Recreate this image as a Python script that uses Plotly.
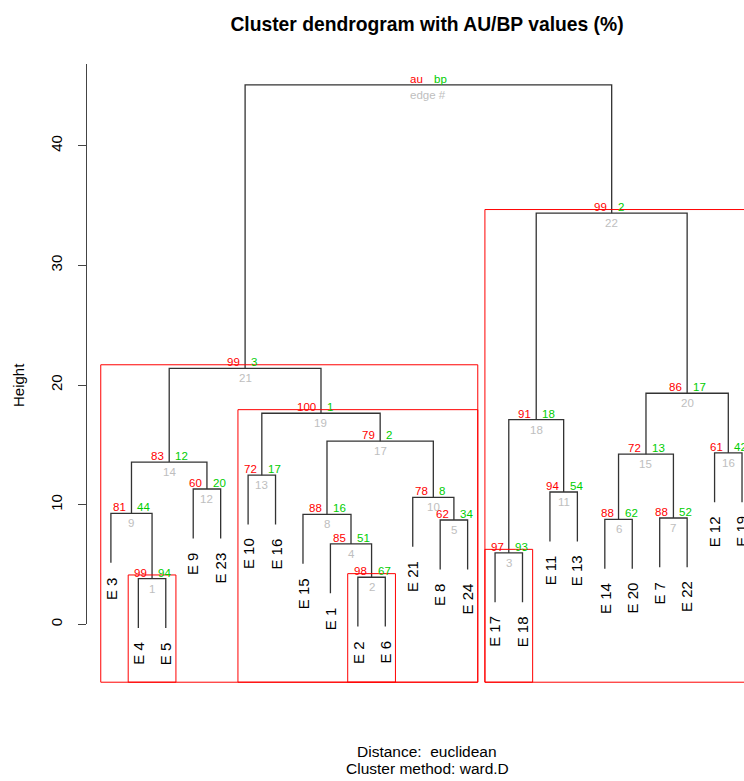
import plotly.graph_objects as go

# ---------------- data ----------------
leaf_labels = ["E 3", "E 4", "E 5", "E 9", "E 23", "E 10", "E 16", "E 15", "E 1", "E 2", "E 6", "E 21",
               "E 8", "E 24", "E 17", "E 18", "E 11", "E 13", "E 14", "E 20", "E 7", "E 22", "E 12", "E 19"]
# hclust-style merges: negative = leaf position (1-based, in plotting order), positive = earlier edge number
merge_left = [-2, -10, -15, -9, -13, -19, -21, -8, -1, -12, -17, -4, -6, 9, 6, -23, 8, 3, 13, 15, 14, 18, 21]
merge_right = [-3, -11, -16, 2, -14, -20, -22, 4, 1, 5, -18, -5, -7, 12, 7, -24, 10, 11, 17, 16, 19, 20, 22]
merge_height = [3.83, 3.94, 5.97, 6.72, 8.72, 8.78, 8.89, 9.19, 9.28, 10.61, 11.06, 11.31, 12.47, 13.56,
                14.22, 14.33, 15.31, 17.11, 17.64, 19.31, 21.39, 34.36, 45.08]
au_values = [99, 98, 97, 85, 62, 88, 88, 88, 81, 78, 94, 60, 72, 83, 72, 61, 79, 91, 100, 86, 99, 99]
bp_values = [94, 67, 93, 51, 34, 62, 52, 16, 44, 8, 54, 20, 17, 12, 13, 42, 2, 18, 1, 17, 3, 2]
y_ticks = [0, 10, 20, 30, 40]
au_threshold = 95

# ---------------- geometry helpers ----------------
FONT = "Liberation Sans, Arial, sans-serif"
RED, GREEN, GRAY = "#FF0000", "#00CD00", "#BEBEBE"
W, H = 744, 781
px_per_x = 27.44
px_per_y = 12.0
x_left_px, y0_px = 110.9, 626.0
x0 = 1 - x_left_px / px_per_x
x1 = x0 + W / px_per_x
y_top = y0_px / px_per_y
y_bot = y_top - H / px_per_y


def px(xp):
    return xp / W


def py(yp):
    return 1 - yp / H


hang = 0.1 * (max(merge_height) - min(merge_height))

n_edges = len(merge_height)
node_x = {}
node_members = {}
for k in range(n_edges):
    xs, mems = [], []
    for c in (merge_left[k], merge_right[k]):
        if c < 0:
            xs.append(-c)
            mems.append(-c)
        else:
            xs.append(node_x[c])
            mems.extend(node_members[c])
    node_x[k + 1] = sum(xs) / 2
    node_members[k + 1] = mems

lx, ly = [], []
for k in range(n_edges):
    h = merge_height[k]
    pts = []
    for c in (merge_left[k], merge_right[k]):
        if c < 0:
            pts.append((-c, h - hang))
        else:
            pts.append((node_x[c], merge_height[c - 1]))
    (xa, ya), (xb, yb) = pts
    lx += [xa, xa, xb, xb, None]
    ly += [ya, h, h, yb, None]

fig = go.Figure()
fig.add_trace(go.Scatter(x=lx, y=ly, mode="lines", line=dict(color="#333333", width=1.3),
                         hoverinfo="skip", showlegend=False))
fig.add_trace(go.Scatter(x=[None], y=[None], yaxis="y2", mode="lines", showlegend=False, hoverinfo="skip"))

ann = []
# leaf labels
for i, lab in enumerate(leaf_labels, start=1):
    for k in range(n_edges):
        if merge_left[k] == -i or merge_right[k] == -i:
            ph = merge_height[k]
            break
    ann.append(dict(x=i, y=ph - hang, xref="x", yref="y", text=lab, showarrow=False, textangle=-90,
                    xanchor="center", yanchor="top", yshift=-12,
                    font=dict(family=FONT, size=15, color="black")))

# au / bp / edge labels
for k in range(n_edges):
    x = node_x[k + 1]
    h = merge_height[k]
    if k < len(au_values):
        t_au, t_bp, t_e = str(au_values[k]), str(bp_values[k]), str(k + 1)
    else:
        t_au, t_bp, t_e = "au", "bp", "edge #"
    ann.append(dict(x=x, y=h, xref="x", yref="y", text=t_au, showarrow=False, xanchor="right",
                    yanchor="bottom", xshift=-3, yshift=-2, font=dict(family=FONT, size=11.5, color=RED)))
    ann.append(dict(x=x, y=h, xref="x", yref="y", text=t_bp, showarrow=False, xanchor="left",
                    yanchor="bottom", xshift=4, yshift=-2, font=dict(family=FONT, size=11.5, color=GREEN)))
    ann.append(dict(x=x, y=h, xref="x", yref="y", text=t_e, showarrow=False, xanchor="center",
                    yanchor="top", yshift=-2, font=dict(family=FONT, size=11.5, color=GRAY)))

# rectangles for clusters with au >= threshold
shapes = []
rect_bottom = -4.83
for k in range(len(au_values)):
    if au_values[k] >= au_threshold:
        mems = node_members[k + 1]
        shapes.append(dict(type="rect", xref="x", yref="y", x0=min(mems) - 0.37, x1=max(mems) + 0.37,
                           y0=rect_bottom, y1=merge_height[k] + 0.3,
                           line=dict(color=RED, width=1), fillcolor="rgba(0,0,0,0)"))

# texts
ann.append(dict(x=px(18), y=py(386), xref="paper", yref="paper", text="Height", showarrow=False,
                textangle=-90, xanchor="center", yanchor="middle", font=dict(family=FONT, size=15, color="black")))
ann.append(dict(x=px(427), y=py(753), xref="paper", yref="paper", text="Distance:\u00a0 euclidean",
                showarrow=False, xanchor="center", yanchor="middle", font=dict(family=FONT, size=15.5, color="black")))
ann.append(dict(x=px(427), y=py(770), xref="paper", yref="paper", text="Cluster method: ward.D",
                showarrow=False, xanchor="center", yanchor="middle", font=dict(family=FONT, size=15.5, color="black")))

axis_top = 46.8
fig.update_layout(
    width=W, height=H,
    margin=dict(l=0, r=0, t=0, b=0, pad=0),
    paper_bgcolor="white", plot_bgcolor="rgba(0,0,0,0)",
    title=dict(text="<b>Cluster dendrogram with AU/BP values (%)</b>", x=px(427), xanchor="center",
               y=py(24.5), yanchor="middle", font=dict(family=FONT, size=19.3, color="black")),
    xaxis=dict(range=[x0, x1], visible=False, domain=[0, 1]),
    yaxis=dict(range=[y_bot, y_top], visible=False, domain=[0, 1]),
    yaxis2=dict(range=[0, axis_top], domain=[1 - y0_px / H, 1 - (y0_px - axis_top * px_per_y) / H],
                anchor="free", position=px(85.5), side="left", showline=True, linecolor="#444444", linewidth=1,
                ticks="outside", ticklen=8, tickwidth=1, tickcolor="#444444", tickvals=y_ticks,
                ticktext=[str(v) for v in y_ticks], tickangle=-90, showgrid=False, zeroline=False,
                ticklabelstandoff=10,
                tickfont=dict(family=FONT, size=15, color="black")),
    annotations=ann,
    shapes=shapes,
    showlegend=False,
    hovermode=False,
)

fig.write_html("out.html", config={"displayModeBar": False, "staticPlot": True},
               post_script="document.body.style.margin='0';document.body.style.overflow='hidden';")
